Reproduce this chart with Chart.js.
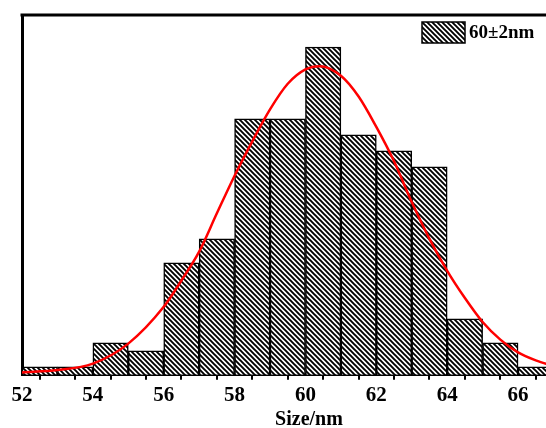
<!DOCTYPE html>
<html>
<head>
<meta charset="utf-8">
<script src="https://cdn.jsdelivr.net/npm/chart.js@4"></script>
<style>
  html, body { margin: 0; padding: 0; background: #fff; overflow: hidden; }
  #wrap { width: 546px; height: 428px; overflow: hidden; }
  canvas { display: block; }
</style>
</head>
<body>
<div id="wrap"><canvas id="chart" width="610" height="428"></canvas></div>
<script>
// histogram bins (left edge, width 1 nm) and counts
const binStarts = [52, 53, 54, 55, 56, 57, 58, 59, 60, 61, 62, 63, 64, 65, 66];
const counts    = [1, 1, 4, 3, 14, 17, 32, 32, 41, 30, 28, 26, 7, 4, 1];

// red fitted curve
const curveX = [52, 53, 54, 55, 56, 56.5, 57, 57.5, 58, 58.5, 59, 59.5, 60, 60.4, 61, 61.5, 62, 62.5, 63, 63.5, 64, 64.5, 65, 65.5, 66, 66.5, 67];
const curveY = [0.3, 0.6, 1.4, 3.9, 8.5, 11.8, 15.4, 20.2, 24.9, 29.2, 33.2, 36.4, 38.2, 38.6, 37.4, 34.8, 31.0, 26.7, 21.6, 17.0, 13.0, 9.6, 6.6, 4.4, 2.8, 1.8, 1.1];

const xTicks = [52, 54, 56, 58, 60, 62, 64, 66];
const legendLabel = '60±2nm';
const serif = "'Liberation Serif', 'Times New Roman', serif";

// ── hatch pattern (\\\\) ───────────────────────────────────────
function hatch() {
  const s = 5;
  const c = document.createElement('canvas');
  c.width = s; c.height = s;
  const g = c.getContext('2d');
  g.fillStyle = '#fff';
  g.fillRect(0, 0, s, s);
  g.strokeStyle = '#000';
  g.lineWidth = 1.9;
  g.beginPath();
  g.moveTo(-1, -1); g.lineTo(s + 1, s + 1);
  g.moveTo(-1, s - 1); g.lineTo(1, s + 1);
  g.moveTo(s - 1, -1); g.lineTo(s + 1, 1);
  g.stroke();
  return g.createPattern(c, 'repeat');
}
const pat = hatch();

// frame on top/right + legend box in the top right corner
const frame = {
  id: 'frame',
  afterDraw(chart) {
    const { ctx, chartArea: a } = chart;
    ctx.save();
    ctx.strokeStyle = '#000';
    ctx.lineWidth = 3;
    ctx.beginPath();
    ctx.moveTo(a.left - 1.5, a.top);
    ctx.lineTo(a.right, a.top);
    ctx.lineTo(a.right, a.bottom);
    ctx.stroke();

    // legend
    const bx = 422, by = 22, bw = 43, bh = 21;
    ctx.fillStyle = pat;
    ctx.fillRect(bx, by, bw, bh);
    ctx.lineWidth = 1.5;
    ctx.strokeRect(bx, by, bw, bh);
    ctx.fillStyle = '#000';
    ctx.font = 'bold 19px ' + serif;
    ctx.textBaseline = 'middle';
    ctx.textAlign = 'left';
    ctx.fillText(legendLabel, bx + bw + 4, by + bh / 2 + 1);
    ctx.restore();
  }
};

new Chart(document.getElementById('chart'), {
  type: 'bar',
  data: {
    datasets: [
      {
        type: 'line',
        label: 'fit',
        data: curveX.map((x, i) => ({ x, y: curveY[i] })),
        borderColor: '#ff0000',
        borderWidth: 2.5,
        pointRadius: 0,
        cubicInterpolationMode: 'monotone',
        fill: false,
        order: 0
      },
      {
        type: 'bar',
        label: legendLabel,
        data: binStarts.map((b, i) => ({ x: b + 0.5, y: counts[i] })),
        backgroundColor: pat,
        borderColor: '#000',
        borderWidth: 1.5,
        barPercentage: 1,
        categoryPercentage: 1,
        order: 1
      }
    ]
  },
  plugins: [frame],
  options: {
    responsive: false,
    animation: false,
    layout: { padding: { left: 14, top: 15, right: 14, bottom: -4 } },
    plugins: {
      tooltip: { enabled: false },
      legend: { display: false }
    },
    scales: {
      x: {
        type: 'linear',
        min: 52,
        max: 68.2,
        offset: false,
        afterBuildTicks: axis => { axis.ticks = binStarts.concat([67]).map(v => ({ value: v })); },
        ticks: {
          color: '#000',
          padding: 3,
          maxRotation: 0,
          autoSkip: false,
          font: { family: serif, size: 21, weight: 'bold' },
          callback: v => xTicks.includes(v) ? String(v) : ''
        },
        grid: { drawOnChartArea: false, drawTicks: true, tickLength: 5, color: '#000', lineWidth: 2 },
        border: { display: true, color: '#000', width: 3 },
        title: {
          display: true,
          text: 'Size/nm',
          color: '#000',
          padding: { top: -3, bottom: 0 },
          font: { family: serif, size: 20, weight: 'bold' }
        }
      },
      y: {
        min: 0,
        max: 45,
        ticks: { display: false },
        grid: { display: false },
        border: { display: true, color: '#000', width: 3 }
      }
    }
  }
});
</script>
</body>
</html>
